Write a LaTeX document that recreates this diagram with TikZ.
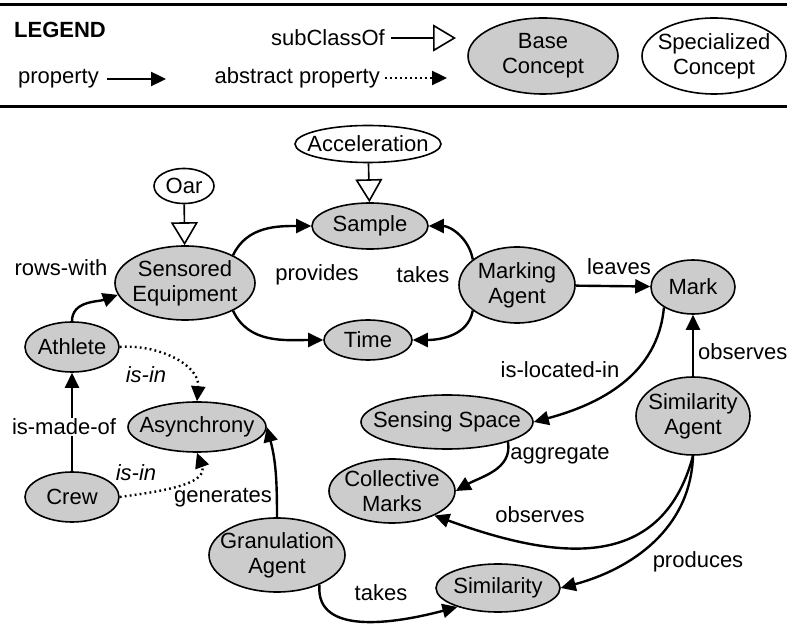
\documentclass[tikz,border=0pt]{standalone}
\usepackage{fontspec}
\setmainfont{Liberation Sans}
\usetikzlibrary{shapes.geometric,arrows.meta}
\definecolor{conceptgray}{RGB}{204,204,204}
\tikzset{
  concept/.style n args={3}{ellipse, draw, line width=1.6pt, fill=conceptgray, inner sep=0pt,
    minimum width=#1, minimum height=#2, label={[align=center]center:#3}},
  special/.style n args={3}{concept={#1}{#2}{#3}, fill=white},
  prop/.style={-{Triangle[length=15pt,width=14pt]}, line width=2.4pt},
  abstr/.style={prop, dash pattern=on 1.8pt off 3.2pt},
  subcl/.style={-{Triangle[open,length=23pt,width=27pt,line width=1.6pt]}, line width=1.6pt},
  lbl/.style={inner sep=1pt},
}
\begin{document}
\begin{tikzpicture}[x=1pt,y=1pt,font=\fontsize{22}{25}\selectfont]

    \useasboundingbox (0,0) rectangle (787,624);
    \fill[white] (0,0) rectangle (787,624);

    \draw[line width=3pt] (0,619) -- (787,619); % ----- Legend
    \draw[line width=3pt] (0,517) -- (787,517);
    \node[lbl, font=\fontsize{22}{25}\selectfont\bfseries] (legend) at (60,594) {LEGEND};
    \node[lbl, anchor=east] (lsubcl) at (386,586) {subClassOf};
    \coordinate (lsubclend) at (456,586);
    \draw[subcl, shorten <=5pt] (lsubcl.east) -- (lsubclend);
    \node[lbl, anchor=east] (lprop) at (100,545) {property};
    \coordinate (lpropend) at (166,545);
    \draw[prop, shorten <=7pt] (lprop.east) -- (lpropend);
    \node[lbl, anchor=east] (labstr) at (381,546) {abstract property};
    \coordinate (labstrend) at (447,546);
    \draw[abstr, shorten <=4pt] (labstr.east) -- (labstrend);
    \node[concept={150pt}{76pt}{Base\\Concept}] (lbase) at (543,568) {};
    \node[special={144pt}{76pt}{Specialized\\Concept}] (lspec) at (714,568) {};

    \node[special={146pt}{37pt}{Acceleration}] (acc) at (368,480) {}; % ----- Concepts
    \node[special={60pt}{35pt}{Oar}] (oar) at (184,438) {};
    \node[concept={116pt}{46pt}{Sample}] (sample) at (370,398) {};
    \node[concept={140pt}{74pt}{Sensored\\Equipment}] (se) at (185,341) {};
    \node[concept={116pt}{76pt}{Marking\\Agent}] (ma) at (517,339) {};
    \node[concept={84pt}{54pt}{Mark}] (mark) at (693,337) {};
    \node[concept={88pt}{40pt}{Time}] (time) at (368,284) {};
    \node[concept={94pt}{50pt}{Athlete}] (athlete) at (72,277) {};
    \node[concept={138pt}{50pt}{Asynchrony}] (asyn) at (197,197) {};
    \node[concept={172pt}{54pt}{Sensing Space}] (senssp) at (447,202) {};
    \node[concept={114pt}{78pt}{Similarity\\Agent}] (simag) at (693,208) {};
    \node[concept={126pt}{64pt}{Collective\\Marks}] (collm) at (392,133) {};
    \node[concept={94pt}{50pt}{Crew}] (crew) at (72,127) {};
    \node[concept={136pt}{74pt}{Granulation\\Agent}] (granag) at (277,69) {};
    \node[concept={124pt}{48pt}{Similarity}] (simil) at (498,36) {};

    \draw[subcl] (oar) -- (se); % ----- Relations
    \draw[subcl] (acc) -- (sample);
    \draw[prop] (se.30) to[out=65,in=180] (sample.west);
    \draw[prop] (se.-30) to[out=-65,in=180] (time.west);
    \draw[prop] (ma.150) to[out=100,in=0] (sample.east);
    \draw[prop] (ma.-150) to[out=-100,in=0] (time.east);
    \draw[prop] (ma) -- (mark);
    \draw[prop] (mark.-145) to[out=-95,in=15] (senssp.east);
    \draw[prop] (simag) -- (mark);
    \draw[prop] (senssp.-18) to[out=-80,in=30] (collm.east);
    \draw[prop] (simag.south) to[out=-105,in=-20,looseness=1.2] (collm.-30);
    \draw[prop] (simag.south) to[out=-92,in=15] (simil.east);
    \draw[prop] (granag.-35) to[out=-95,in=-165] (simil.-155);
    \draw[prop] (granag.north) to[out=90,in=-75] (asyn.east);
    \draw[prop] (athlete.north) to[out=90,in=200] (se.190);
    \draw[prop] (crew) -- (athlete);
    \draw[abstr] (athlete.east) to[out=5,in=85] (asyn.north);
    \draw[abstr] (crew.east) to[out=8,in=-70] (asyn.south);

    \node[lbl] (trows) at (61,356) {rows-with}; % ----- Labels
    \node[lbl] (tprov) at (317,349) {provides};
    \node[lbl] (ttakes) at (423,349) {takes};
    \node[lbl] (tleaves) at (619,357) {leaves};
    \node[lbl, anchor=west] (tobsmark) at (697,272) {observes};
    \node[lbl] (tloc) at (560,254) {is-located-in};
    \node[lbl, fill=white] (tmade) at (64,197) {is-made-of};
    \node[lbl, font=\fontsize{22}{25}\selectfont\itshape] (tisin) at (146,249) {is-in};
    \node[lbl, font=\fontsize{22}{25}\selectfont\itshape] (tisincrew) at (136,151) {is-in};
    \node[lbl] (taggr) at (560,169) {aggregate};
    \node[lbl] (tobscoll) at (540,109) {observes};
    \node[lbl] (tgen) at (223,126) {generates};
    \node[lbl] (tprod) at (698,62) {produces};
    \node[lbl] (ttakesim) at (381,31) {takes};
\end{tikzpicture}
\end{document}
